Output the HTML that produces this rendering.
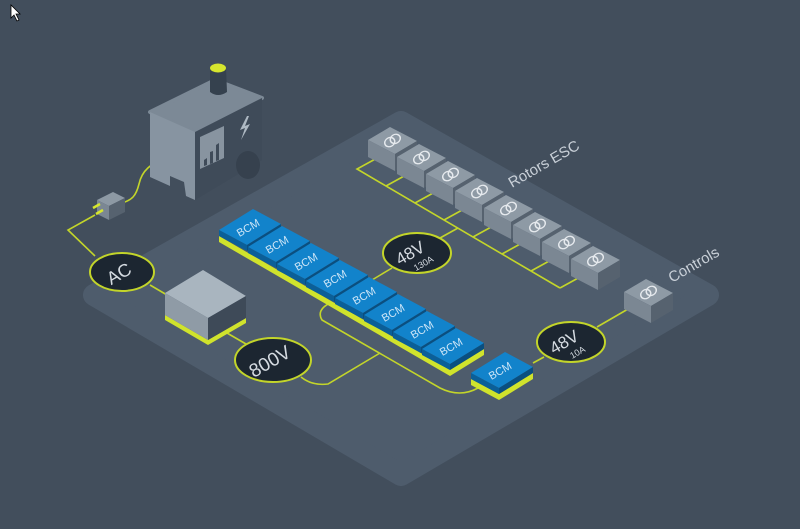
<!DOCTYPE html>
<html><head><meta charset="utf-8"><style>
html,body{margin:0;padding:0;background:#424e5c;}
svg{display:block;}
text{font-family:"Liberation Sans",sans-serif;}
</style></head><body>
<svg width="800" height="529" viewBox="0 0 800 529" xmlns="http://www.w3.org/2000/svg">
<defs>
<g id="bcm">
<polygon points="0,0 34,-21 62,-6 28,15" fill="#1283cb"/>
<polygon points="0,0 28,15 28,21 0,6" fill="#0b5f98"/>
<polygon points="28,15 62,-6 62,0 28,21" fill="#0a4f80"/>
</g>
<g id="esc">
<polygon points="0,0 22,-13 49,1 27,14" fill="#8e9aa5"/>
<polygon points="0,0 27,14 27,31 0,17" fill="#7b8793"/>
<polygon points="27,14 49,1 49,18 27,31" fill="#56626f"/>
<g transform="translate(24.5,0.5) rotate(-30) scale(1,0.85)" fill="none" stroke="#e6eaee" stroke-width="1.5">
<circle cx="-3.2" cy="0" r="5.2"/><circle cx="3.2" cy="0" r="5.2"/>
</g>
</g>
</defs>
<rect width="800" height="529" fill="#424e5c"/>
<polygon points="401,122 708,295 401,475 94,295" fill="#4e5c6c" stroke="#4e5c6c" stroke-width="22" stroke-linejoin="round"/>

<g fill="none" stroke="#c3d52a" stroke-width="1.6">
<path d="M95,215 L68,230 L95,256"/>
<path d="M150,285 L167,295"/>
<path d="M227,333 L246,344"/>
<path d="M301,377 Q312,386 328,384 L380,353"/>
<path d="M330,303 Q316,310 322,320 L440,388 Q460,398 478,388"/>
<path d="M372,280 L392,268"/>
<path d="M440,238 L458,228"/>
<path d="M533,363 L544,357"/>
<path d="M597,327 L635,305"/>
<path d="M379,157 L357,169 L560,288"/>
<path d="M386,186 L406,175 M415,203 L435,192 M444,220 L464,209 M473,237 L493,226 M502,254 L522,243 M531,271 L551,260 M560,288 L580,277"/>
<path d="M168,155 C150,165 142,170 139,184 C136,196 132,200 122,203"/>
</g>

<polygon points="150,112 215,80 262,98 195,132" fill="#7c8996" stroke="#7c8996" stroke-width="4" stroke-linejoin="round"/>
<polygon points="150,112 195,132 195,200 186,196 184,182 170,176 170,186 150,177" fill="#8794a1"/>
<polygon points="195,132 262,98 262,160 195,200" fill="#3f4b59"/>
<ellipse cx="248" cy="165" rx="12" ry="14" fill="#36414e"/>
<polygon points="200,137 224,126 224,158 200,169" fill="#8894a0"/>
<g fill="#3f4b59"><polygon points="204,160 207,158 207,165 204,166"/><polygon points="210,152 213,151 213,163 210,164"/><polygon points="216,145 219,143 219,160 216,161"/></g>
<polygon points="247,116 240,130 245,128 241,140 250,124 245,126 249,116" fill="#aeb9c3"/>
<path d="M210,68 L210,92 Q218,98 227,92 L226,68 Z" fill="#35414e"/>
<ellipse cx="218" cy="68" rx="8" ry="4.5" fill="#d6e62e"/>
<polygon points="97,200 113,192 125,198 109,206" fill="#8d99a4"/>
<polygon points="97,200 109,206 109,220 97,214" fill="#7b8793"/>
<polygon points="109,206 125,198 125,212 109,220" fill="#56626f"/>
<path d="M93,208 L100,204 M96,214 L103,210" stroke="#d6e62e" stroke-width="2.5"/>

<polygon points="165,315 208,340 246,318 246,323 208,345 165,320" fill="#d0e32c"/>
<polygon points="165,293 203,270 246,296 208,318" fill="#a9b5bf"/>
<polygon points="165,293 208,318 208,340 165,315" fill="#8f9ba6"/>
<polygon points="208,318 246,296 246,318 208,340" fill="#3e4a58"/>

<use href="#esc" x="368" y="140"/>
<use href="#esc" x="397" y="157"/>
<use href="#esc" x="426" y="174"/>
<use href="#esc" x="455" y="191"/>
<use href="#esc" x="484" y="208"/>
<use href="#esc" x="513" y="225"/>
<use href="#esc" x="542" y="242"/>
<use href="#esc" x="571" y="259"/>
<use href="#esc" x="624" y="292"/>

<polygon points="219,236 450,370 484,349 484,355 450,376 219,242" fill="#d0e32c"/>
<use href="#bcm" x="219" y="230"/>
<use href="#bcm" x="248" y="247"/>
<use href="#bcm" x="277" y="264"/>
<use href="#bcm" x="306" y="281"/>
<use href="#bcm" x="335" y="298"/>
<use href="#bcm" x="364" y="315"/>
<use href="#bcm" x="393" y="332"/>
<use href="#bcm" x="422" y="349"/>
<polygon points="471,379 499,394 533,373 533,379 499,400 471,385" fill="#d0e32c"/>
<use href="#bcm" x="471" y="373"/>
<g fill="#cfe6f7" font-size="11" text-anchor="middle">
<text transform="translate(250,231) rotate(-30)">BCM</text>
<text transform="translate(279,248) rotate(-30)">BCM</text>
<text transform="translate(308,265) rotate(-30)">BCM</text>
<text transform="translate(337,282) rotate(-30)">BCM</text>
<text transform="translate(366,299) rotate(-30)">BCM</text>
<text transform="translate(395,316) rotate(-30)">BCM</text>
<text transform="translate(424,333) rotate(-30)">BCM</text>
<text transform="translate(453,350) rotate(-30)">BCM</text>
<text transform="translate(502,374) rotate(-30)">BCM</text>
</g>

<g fill="#1c2631" stroke="#c3d52a" stroke-width="2">
<ellipse cx="122" cy="272" rx="32" ry="19"/>
<ellipse cx="273" cy="360" rx="38" ry="22"/>
<ellipse cx="417" cy="253" rx="34" ry="20"/>
<ellipse cx="571" cy="342" rx="34" ry="20"/>
</g>
<g fill="#d5dbe1" text-anchor="middle">
<text transform="translate(122,279) rotate(-30)" font-size="18">AC</text>
<text transform="translate(273,367) rotate(-30)" font-size="19">800V</text>
<text transform="translate(413,258) rotate(-30)" font-size="17">48V</text>
<text transform="translate(425,266) rotate(-30)" font-size="9">130A</text>
<text transform="translate(567,347) rotate(-30)" font-size="17">48V</text>
<text transform="translate(579,355) rotate(-30)" font-size="9">10A</text>
</g>
<g fill="#c9d0d8" font-size="15">
<text transform="translate(512,188) rotate(-30)">Rotors ESC</text>
<text transform="translate(672,283) rotate(-30)">Controls</text>
</g>
<path d="M11,5 L11,18 L14,15 L17,21 L19,20 L16,14 L20,14 Z" fill="#fff" stroke="#000" stroke-width="0.8"/>
</svg>
</body></html>
